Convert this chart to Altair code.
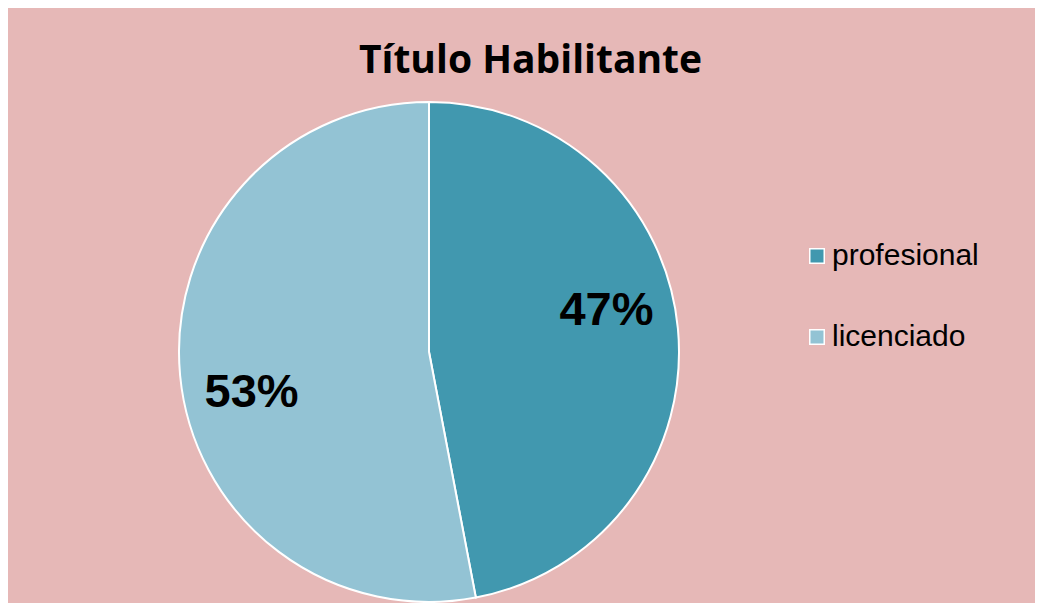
import altair as alt
import pandas as pd

categories = ["profesional", "licenciado"]
values = [47, 53]
labels = ["47%", "53%"]
order = [0, 1]
colors = ["#4198AF", "#93C3D4"]

df = pd.DataFrame({"cat": categories, "value": values, "label": labels, "ord": order})

W, H = 1027, 595
CX, CY, R = 421, 344, 250

base = alt.Chart(df)

pie = base.mark_arc(radius=R, stroke="white", strokeWidth=2).encode(
    theta=alt.Theta("value:Q", stack=True),
    order=alt.Order("ord:Q"),
    color=alt.Color(
        "cat:N",
        scale=alt.Scale(domain=categories, range=colors),
        sort=categories,
        legend=alt.Legend(
            title=None,
            orient="none",
            legendX=794,
            legendY=233,
            symbolType="square",
            symbolSize=210,
            symbolStrokeColor="white",
            symbolStrokeWidth=1.5,
            symbolOpacity=1,
            labelFont="Liberation Sans",
            labelFontSize=30,
            labelColor="black",
            labelOffset=0,
            rowPadding=51,
            padding=0,
        ),
    ),
    x=alt.value(CX),
    y=alt.value(CY),
)

text = base.mark_text(
    radius=182, font="Liberation Sans", fontSize=47, fontWeight="bold", color="black"
).encode(
    theta=alt.Theta(
        "value:Q", stack=True, scale=alt.Scale(range=[-0.1309, 6.1523])
    ),
    order=alt.Order("ord:Q"),
    text="label:N",
    x=alt.value(CX),
    y=alt.value(CY),
)

chart = (
    alt.layer(pie, text)
    .resolve_scale(theta="independent")
    .properties(
        width=W,
        height=H,
        autosize=alt.AutoSizeParams(type="none"),
        padding=0,
        background="#E6B8B7",
        title=alt.TitleParams(
            "Título Habilitante",
            font="Open Sans",
            fontSize=39,
            fontWeight="bold",
            color="black",
            frame="group",
            anchor="middle",
            baseline="alphabetic",
            offset=-65,
            dx=9,
            dy=39,
        ),
    )
    .configure_view(stroke=None)
)

chart.save("out.html", embed_options={"renderer": "svg", "actions": False})
